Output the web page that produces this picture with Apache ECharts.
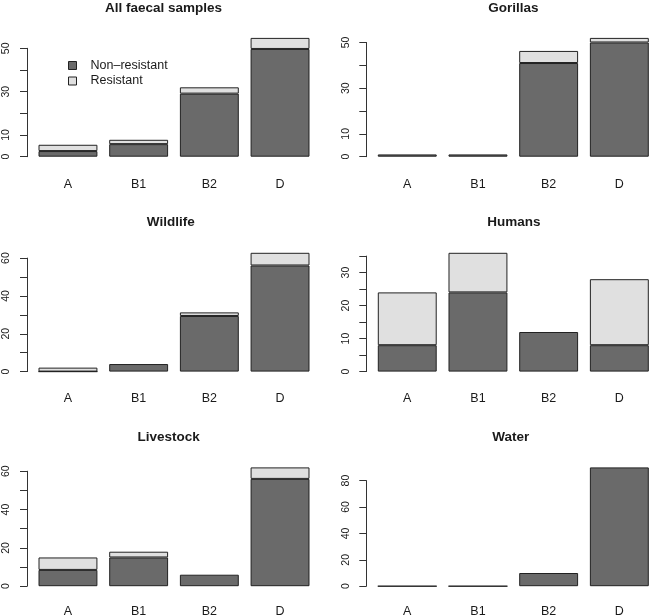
<!DOCTYPE html>
<html><head><meta charset="utf-8">
<script src="https://cdn.jsdelivr.net/npm/echarts@6/dist/echarts.min.js"></script>
<style>html,body{margin:0;padding:0;background:#fff}#c{width:650px;height:616px}</style>
</head><body><div id="c"></div>
<script>
// ---- data ----
const categories = ['A', 'B1', 'B2', 'D'];
const titles = ['All faecal samples', 'Gorillas', 'Wildlife', 'Humans', 'Livestock', 'Water'];
const legendNames = ['Non–resistant', 'Resistant'];

const allNonRes = [2.6, 5.8, 29.1, 49.7];
const allRes = [2.9, 2.0, 2.9, 5.1];
const gorillaNonRes = [1, 1, 41, 50];
const gorillaRes = [0, 0, 5.3, 2];
const wildlifeNonRes = [0, 4, 29.4, 56.1];
const wildlifeRes = [2.1, 0, 1.9, 6.7];
const humanNonRes = [8, 24, 12, 8];
const humanRes = [16, 12, 0, 20];
const livestockNonRes = [8.5, 15, 6, 56];
const livestockRes = [6.5, 3, 0, 6];
const waterNonRes = [0, 0, 10, 90];
const waterRes = [0, 0, 0, 0];

const allTicks = [0, 10, 20, 30, 40, 50];
const allTickLabels = [0, 10, 30, 50];
const gorillaTicks = [0, 10, 20, 30, 40, 50];
const gorillaTickLabels = [0, 10, 30, 50];
const wildlifeTicks = [0, 10, 20, 30, 40, 50, 60];
const wildlifeTickLabels = [0, 20, 40, 60];
const humanTicks = [0, 5, 10, 15, 20, 25, 30, 35];
const humanTickLabels = [0, 10, 20, 30];
const livestockTicks = [0, 10, 20, 30, 40, 50, 60];
const livestockTickLabels = [0, 20, 40, 60];
const waterTicks = [0, 20, 40, 60, 80];
const waterTickLabels = [0, 20, 40, 60, 80];

const panels = [
  { title: titles[0], nonRes: allNonRes, res: allRes, ticks: allTicks, labels: allTickLabels },
  { title: titles[1], nonRes: gorillaNonRes, res: gorillaRes, ticks: gorillaTicks, labels: gorillaTickLabels },
  { title: titles[2], nonRes: wildlifeNonRes, res: wildlifeRes, ticks: wildlifeTicks, labels: wildlifeTickLabels },
  { title: titles[3], nonRes: humanNonRes, res: humanRes, ticks: humanTicks, labels: humanTickLabels },
  { title: titles[4], nonRes: livestockNonRes, res: livestockRes, ticks: livestockTicks, labels: livestockTickLabels },
  { title: titles[5], nonRes: waterNonRes, res: waterRes, ticks: waterTicks, labels: waterTickLabels }
];

// ---- layout / style ----
const FONT = "'Liberation Sans', Arial, sans-serif";
const DARK = '#6a6a6a', LIGHT = '#e0e0e0', EDGE = '#222', INK = '#1a1a1a';
const colBarLeft = [38.5, 377.8], barSpan = 271;
const rowZero = [156.7, 371.6, 586.2], barTopH = 118.8;
const rowLabelMargin = [21.5, 20, 19];
const titleX = [163.5, 513.3, 170.8, 513.8, 168.7, 510.7];
const rowStep = 214.7;
const bw = barSpan / 4.6, gap = 0.2 * bw;

const grids = [], xAxes = [], yAxes = [], series = [], titleArr = [];
panels.forEach((p, i) => {
  const col = i % 2, row = Math.floor(i / 2);
  const zero = rowZero[row];
  const maxTotal = Math.max(...p.nonRes.map((v, k) => v + p.res[k]));
  const tickMax = p.ticks[p.ticks.length - 1], step = p.ticks[1] - p.ticks[0];

  const gi = grids.length;
  grids.push({ left: colBarLeft[col] - gap / 2, width: 4 * (bw + gap), top: zero - barTopH, height: barTopH,
    containLabel: false, outerBoundsMode: 'none' });
  xAxes.push({ gridIndex: gi, type: 'category', data: categories,
    axisLine: { show: false }, axisTick: { show: false }, splitLine: { show: false },
    axisLabel: { margin: rowLabelMargin[row], fontSize: 12.5, color: INK, fontFamily: FONT } });
  yAxes.push({ gridIndex: gi, type: 'value', min: 0, max: maxTotal, show: false, splitLine: { show: false } });
  series.push({ type: 'bar', name: legendNames[0], xAxisIndex: gi, yAxisIndex: gi, stack: 's' + i,
    data: p.nonRes, barCategoryGap: '16.667%',
    itemStyle: { color: DARK, borderColor: EDGE, borderWidth: 1 } });
  // a zero resistant segment stacked on top adds nothing visible: leave it out
  series.push({ type: 'bar', name: legendNames[1], xAxisIndex: gi, yAxisIndex: gi, stack: 's' + i,
    data: p.res.map(v => (v === 0 ? '-' : v)), barCategoryGap: '16.667%',
    itemStyle: { color: LIGHT, borderColor: EDGE, borderWidth: 1 } });

  const aTop = zero - barTopH * tickMax / maxTotal;
  const ai = grids.length;
  grids.push({ left: colBarLeft[col] - 11.5, width: 10, top: aTop, height: zero - aTop,
    containLabel: false, outerBoundsMode: 'none' });
  xAxes.push({ gridIndex: ai, type: 'value', show: false });
  yAxes.push({ gridIndex: ai, type: 'value', min: 0, max: tickMax, interval: step,
    axisLine: { show: true, lineStyle: { color: '#333', width: 1 } },
    axisTick: { show: true, length: 7, lineStyle: { color: '#333', width: 1 } },
    splitLine: { show: false },
    axisLabel: { rotate: 90, margin: 15, fontSize: 10.5, color: INK, fontFamily: FONT,
      formatter: v => (p.labels.includes(v) ? String(v) : '') } });

  titleArr.push({ text: p.title, left: titleX[i], top: row * rowStep + 1, textAlign: 'center', padding: 0,
    textStyle: { fontSize: 13.5, fontWeight: 'bold', color: INK, fontFamily: FONT } });
});

const chart = echarts.init(document.getElementById('c'), null, { renderer: 'canvas' });
chart.setOption({
  animation: false,
  backgroundColor: '#fff',
  title: titleArr,
  legend: { data: legendNames, orient: 'vertical', left: 68, top: 58.5, padding: 0,
    itemWidth: 8, itemHeight: 8, itemGap: 1.5, icon: 'rect', selectedMode: false,
    itemStyle: { borderColor: EDGE, borderWidth: 1 },
    textStyle: { fontSize: 12.5, lineHeight: 14, fontFamily: FONT, color: INK, padding: [0, 0, 0, 9] } },
  grid: grids, xAxis: xAxes, yAxis: yAxes, series: series
});
</script></body></html>
